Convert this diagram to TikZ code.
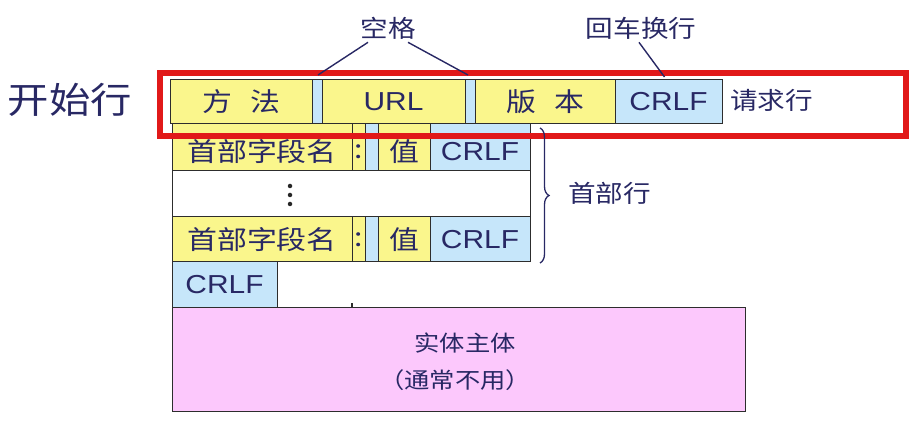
\documentclass[tikz,border=0pt]{standalone}
\usepackage{fontspec}
\setmainfont[FakeStretch=1.15]{Noto Sans CJK SC}
\newfontfamily\lat[FakeStretch=1.15]{Liberation Sans}
\usetikzlibrary{decorations.pathreplacing,calc}
\definecolor{yel}{RGB}{250,246,140}
\definecolor{blu}{RGB}{198,230,250}
\definecolor{pnk}{RGB}{252,200,252}
\definecolor{ink}{RGB}{40,40,100}
\definecolor{edge}{RGB}{45,45,45}
\definecolor{redc}{RGB}{225,25,25}
\begin{document}
\begin{tikzpicture}[x=1pt,y=-1pt,
  cell/.style={draw=edge, line width=1pt, inner sep=0pt, outer sep=0pt, anchor=north west,
    text=ink, font=\fontsize{26}{28}\selectfont},
  ycell/.style={cell, fill=yel},
  bcell/.style={cell, fill=blu},
  lowtext/.style={label={[text=ink, inner sep=0pt, yshift=-4pt, font=\fontsize{26}{28}\selectfont]center:#1}},
  lbl/.style={text=ink, inner sep=0pt, font=\fontsize{24}{26}\selectfont},
  lead/.style={draw=ink, line width=1.4pt},
  dot/.style={circle, fill=black!85, inner sep=0pt, minimum size=4.5pt}]
\useasboundingbox (0,0) rectangle (914,427);

% request line
\node[ycell, minimum width=142pt, minimum height=44pt] (m) at (170,80) {方\hspace{0.7em}法};
\node[bcell, minimum width=10pt, minimum height=44pt] (sp1) at (312,80) {};
\node[ycell, minimum width=143pt, minimum height=44pt] (url) at (322,80) {\lat URL};
\node[bcell, minimum width=10pt, minimum height=44pt] (sp2) at (465,80) {};
\node[ycell, minimum width=140pt, minimum height=44pt] (ver) at (475,80) {版\hspace{0.7em}本};
\node[bcell, minimum width=107pt, minimum height=44pt] (cr0) at (615,80) {\lat CRLF};

% header line 1
\node[ycell, minimum width=180pt, minimum height=47pt, lowtext={首部字段名}] (h1n) at (172,124) {};
\node[ycell, minimum width=13pt, minimum height=47pt, lowtext={:}] (h1c) at (352,124) {};
\node[bcell, minimum width=13pt, minimum height=47pt] (h1s) at (365,124) {};
\node[ycell, minimum width=52pt, minimum height=47pt, lowtext={值}] (h1v) at (378,124) {};
\node[bcell, minimum width=100pt, minimum height=47pt, lowtext={\lat CRLF}] (h1r) at (430,124) {};

% dots row
\node[cell, fill=white, minimum width=358pt, minimum height=46pt] (dots) at (172,171) {};
\node[dot] (d1) at (290,186) {};
\node[dot] (d2) at (290,195) {};
\node[dot] (d3) at (290,204) {};

% header line 2
\node[ycell, minimum width=180pt, minimum height=45pt] (h2n) at (172,217) {首部字段名};
\node[ycell, minimum width=13pt, minimum height=45pt] (h2c) at (352,217) {:};
\node[bcell, minimum width=13pt, minimum height=45pt] (h2s) at (365,217) {};
\node[ycell, minimum width=52pt, minimum height=45pt] (h2v) at (378,217) {值};
\node[bcell, minimum width=100pt, minimum height=45pt] (h2r) at (430,217) {\lat CRLF};

% empty line
\node[bcell, minimum width=105pt, minimum height=46pt] (cr3) at (172,262) {\lat CRLF};

% body
\node[cell, fill=pnk, minimum width=573pt, minimum height=104pt] (body) at (172,308) {};
\node[lbl, font=\fontsize{22}{24}\selectfont] (b1) at (465,343) {实体主体};
\node[lbl, font=\fontsize{22}{24}\selectfont] (b2) at (455,380) {（通常不用）};
\draw[edge, line width=1.2pt] ($(body.north west)+(180,0)$) coordinate (tk) -- ++(0,-5);

% red frame
\node[draw=redc, line width=6pt, inner sep=0pt, anchor=north west,
  minimum width=746pt, minimum height=63pt] (frame) at (157,70) {};

% labels
\node[lbl, font=\fontsize{36}{38}\selectfont] (start) at (70,100) {开始行};
\node[lbl, anchor=west] (req) at (730,100) {请求行};
\node[lbl] (kg) at (388,28) {空格};
\node[lbl] (hc) at (641,28) {回车换行};
\node[lbl, anchor=west] (hdr) at (568,193) {首部行};

\draw[lead] ($(kg.south)+(-20,3)$) -- ($(sp1.north)+(1,-5)$);
\draw[lead] ($(kg.south)+(20,3)$) -- ($(sp2.north)+(-2,-5)$);
\draw[lead] ($(hc.south)+(-2,3)$) -- ($(cr0.north)+(-4,-3)$);

\draw[draw=ink, line width=1.3pt, decorate, decoration={brace, amplitude=9pt}]
  (540,128) coordinate (bt) -- (540,263) coordinate (bb);
\end{tikzpicture}
\end{document}
